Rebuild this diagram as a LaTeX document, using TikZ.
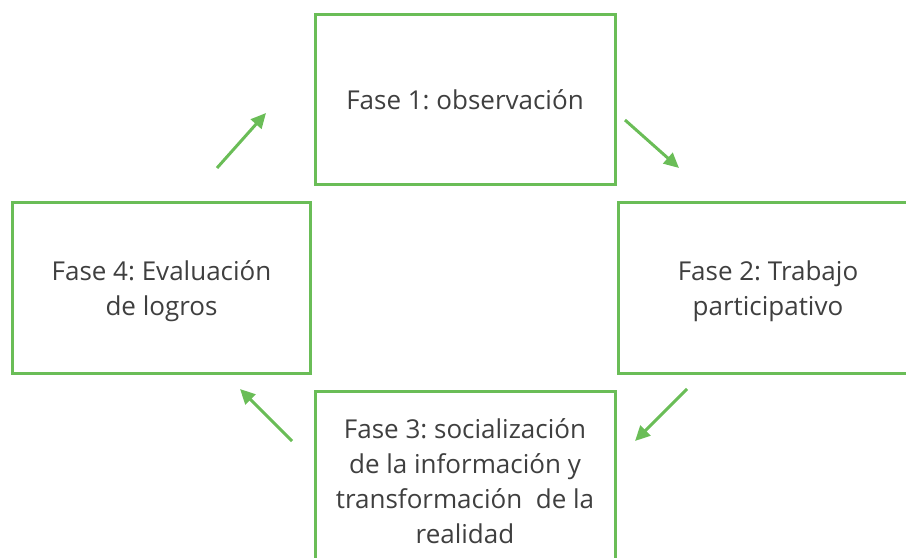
\documentclass[tikz,border=0pt]{standalone}
\usepackage{fontspec}
\setmainfont{Open Sans}
\usetikzlibrary{arrows.meta}
\definecolor{grn}{HTML}{6ABD57}
\definecolor{txt}{HTML}{3F3F3F}
\frenchspacing
\begin{document}
\begin{tikzpicture}[x=1bp,y=-1bp,
  box/.style={draw=grn,line width=3bp,minimum width=300bp,minimum height=170bp,align=center,text=txt,font=\fontsize{26bp}{35bp}\selectfont,inner sep=0pt},
  arr/.style={draw=grn,line width=3bp,-{Triangle[length=15bp,width=14bp]}}]
\path[use as bounding box] (0,0) rectangle (906,558);
\clip (0,0) rectangle (906,558);
\node[box] (f1) at (465,99.5) {Fase 1: observación};
\node[box,text depth=0pt] (f2) at (768,288) {};
\node[align=center,text=txt,font=\fontsize{26bp}{35bp}\selectfont] (t2) at (768,291) {Fase 2: Trabajo\\participativo};
\node[box] (f3) at (465,477) {};
\node[align=center,text=txt,font=\fontsize{26bp}{35bp}\selectfont] (t3) at (465,481) {Fase 3: socialización\\de la información y\\transformación\ \ de la\\realidad};
\node[box,minimum width=298bp] (f4) at (161.5,288) {};
\node[align=center,text=txt,font=\fontsize{26bp}{35bp}\selectfont] (t4) at (161.5,291) {Fase 4: Evaluación\\de logros};
\coordinate (a1s) at (217,168);
\coordinate (a1e) at (266,113);
\coordinate (a2s) at (625,120);
\coordinate (a2e) at (679,168);
\coordinate (a3s) at (687,389);
\coordinate (a3e) at (635,441);
\coordinate (a4s) at (292,441);
\coordinate (a4e) at (240,389);
\draw[arr] (a1s) -- (a1e);
\draw[arr] (a2s) -- (a2e);
\draw[arr] (a3s) -- (a3e);
\draw[arr] (a4s) -- (a4e);
\end{tikzpicture}
\end{document}
